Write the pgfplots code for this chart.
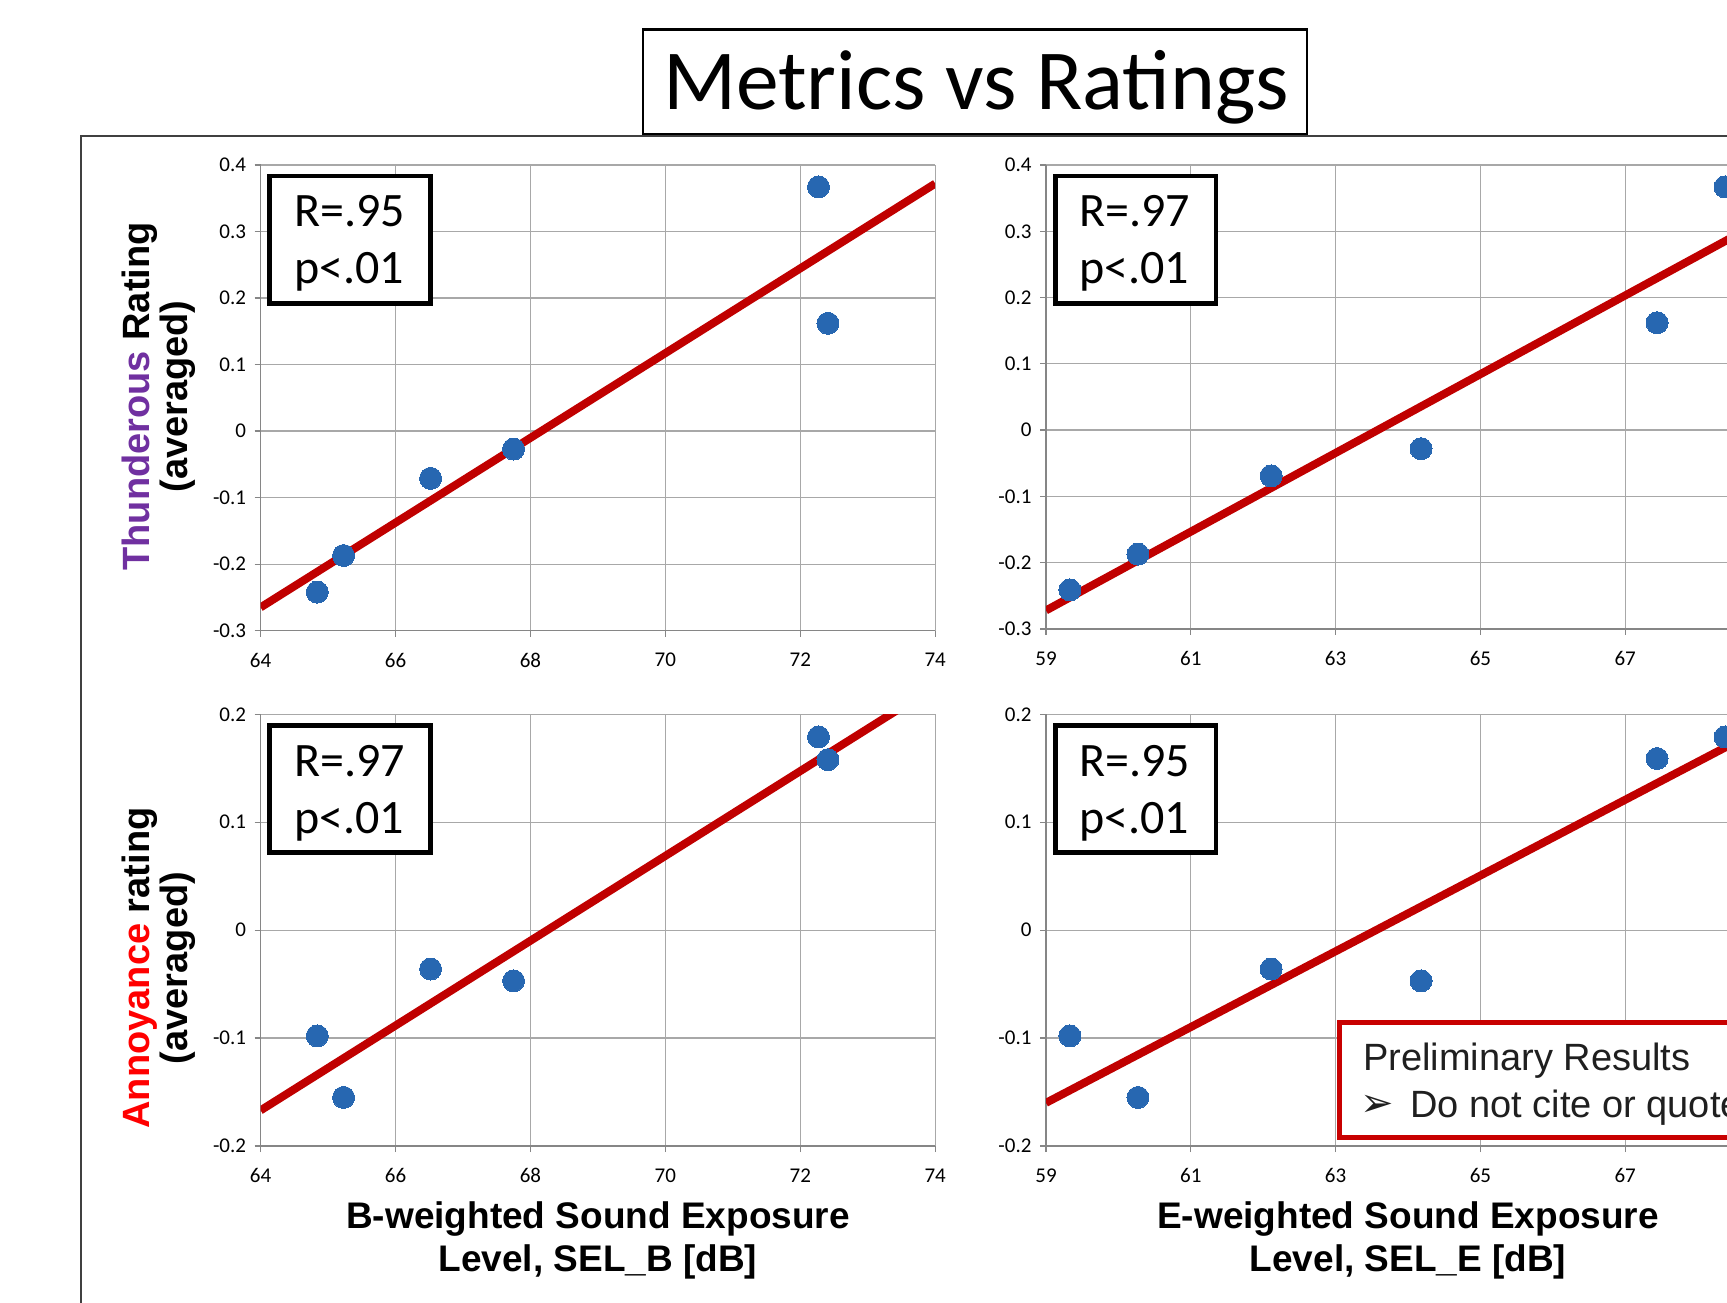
\documentclass[border=0pt]{standalone}
\usepackage{pgfplots}
\pgfplotsset{compat=1.18}
\usepackage{pgfplotstable}
\usepackage{fontspec}
\setmainfont{Carlito}
\newfontfamily\arialfont{Liberation Sans}
\newfontfamily\dejavu{DejaVu Sans}

\definecolor{dotblue}{RGB}{39,103,177}
\definecolor{trendred}{RGB}{192,0,0}
\definecolor{gridgray}{RGB}{168,168,168}
\definecolor{axisgray}{RGB}{134,134,134}
\definecolor{thunder}{RGB}{112,48,160}
\definecolor{annoy}{RGB}{255,0,0}
\definecolor{framegray}{RGB}{64,64,64}
\definecolor{prelim}{RGB}{200,0,0}

% Thunderous rating vs SEL_B
\pgfplotstableread{
x y
64.84 -0.242
65.23 -0.187
66.52 -0.071
67.75 -0.027
72.27 0.367
72.41 0.162
}\thunderB
% Thunderous rating vs SEL_E
\pgfplotstableread{
x y
59.33 -0.241
60.27 -0.187
62.11 -0.069
64.18 -0.028
67.44 0.162
68.38 0.367
}\thunderE
% Annoyance rating vs SEL_B
\pgfplotstableread{
x y
64.84 -0.098
65.23 -0.155
66.52 -0.036
67.75 -0.047
72.27 0.179
72.41 0.158
}\annoyB
% Annoyance rating vs SEL_E
\pgfplotstableread{
x y
59.33 -0.098
60.27 -0.155
62.11 -0.036
64.18 -0.047
67.44 0.159
68.38 0.179
}\annoyE

\pgfplotsset{
  excel/.style={
    scale only axis,
    axis x line*=bottom,
    axis y line*=left,
    axis line style={draw=axisgray, line width=1.5pt},
    grid=major,
    major grid style={draw=gridgray, line width=1.3pt},
    tick align=outside,
    major tick length=6pt,
    tick style={draw=axisgray, line width=1.3pt},
    xticklabel style={font=\fontsize{21}{24}\selectfont, text=black, yshift=-13pt},
    yticklabel style={font=\fontsize{21}{24}\selectfont, text=black, xshift=-5pt},
    clip=true,
  },
  dots/.style={only marks, color=dotblue, mark=*, mark size=11pt, mark options={fill=dotblue, draw=dotblue, line width=0pt}},
  trend/.style={no marks, draw=trendred, line width=8pt},
}

\begin{document}
\begin{tikzpicture}
\useasboundingbox (0pt,0pt) rectangle (1727pt,1302pt);
\clip (0pt,0pt) rectangle (1727pt,1302pt);
\fill[white] (0pt,0pt) rectangle (1727pt,1302pt);

% outer frame
\draw[framegray, line width=2pt] (80.5pt,-5pt) -- (80.5pt,1166.3pt) -- (1740pt,1166.3pt);

% title
\draw[black, line width=2.5pt, fill=white] (643.2pt,1168.2pt) rectangle (1306.8pt,1272.5pt);
\node[anchor=base, inner sep=0pt, font=\fontsize{85.5}{100}\selectfont] at (976pt,1192pt) {Metrics vs Ratings};

% top-left
\begin{axis}[excel, at={(260.6pt,671.3pt)}, anchor=south west,
  width=674.6pt, height=465.7pt,
  xmin=64, xmax=74, ymin=-0.3, ymax=0.4,
  xtick={64,66,68,70,72,74}, xticklabels={64,66,68,70,72,74},
  ytick={-0.3,-0.2,-0.1,0,0.1,0.2,0.3,0.4},
  yticklabels={-0.3,-0.2,-0.1,0,0.1,0.2,0.3,0.4}]
\addplot[trend] coordinates {(64,-0.265) (74,0.372)};
\addplot[dots] table[x=x,y=y] {\thunderB};
\end{axis}

% top-right
\begin{axis}[excel, at={(1046pt,673pt)}, anchor=south west,
  width=724pt, height=464pt,
  xmin=59, xmax=69, ymin=-0.3, ymax=0.4,
  xtick={59,61,63,65,67,69}, xticklabels={59,61,63,65,67,{}},
  ytick={-0.3,-0.2,-0.1,0,0.1,0.2,0.3,0.4},
  yticklabels={-0.3,-0.2,-0.1,0,0.1,0.2,0.3,0.4}]
\addplot[trend] coordinates {(59,-0.272) (69,0.322)};
\addplot[dots] table[x=x,y=y] {\thunderE};
\end{axis}

% bottom-left
\begin{axis}[excel, at={(260.6pt,156pt)}, anchor=south west,
  width=674.6pt, height=431.7pt,
  xmin=64, xmax=74, ymin=-0.2, ymax=0.2,
  xtick={64,66,68,70,72,74}, xticklabels={64,66,68,70,72,74},
  ytick={-0.2,-0.1,0,0.1,0.2},
  yticklabels={-0.2,-0.1,0,0.1,0.2}]
\addplot[trend] coordinates {(64,-0.167) (74,0.226)};
\addplot[dots] table[x=x,y=y] {\annoyB};
\end{axis}

% bottom-right
\begin{axis}[excel, at={(1046pt,156pt)}, anchor=south west,
  width=724pt, height=431.7pt,
  xmin=59, xmax=69, ymin=-0.2, ymax=0.2,
  xtick={59,61,63,65,67,69}, xticklabels={59,61,63,65,67,{}},
  ytick={-0.2,-0.1,0,0.1,0.2},
  yticklabels={-0.2,-0.1,0,0.1,0.2}]
\addplot[trend] coordinates {(59,-0.160) (69,0.191)};
\addplot[dots] table[x=x,y=y] {\annoyE};
\end{axis}

% R / p boxes
\tikzset{rbox/.style={draw=black, line width=4.5pt, fill=white},
         rtxt/.style={anchor=base west, inner sep=0pt, font=\fontsize{48}{56}\selectfont}}
\draw[rbox] (269.3pt,998.6pt) rectangle (430.5pt,1125.8pt);
\node[rtxt] at (294pt,1075pt) {R=.95};
\node[rtxt] at (294pt,1018pt) {p<.01};
\draw[rbox] (1055.3pt,998.6pt) rectangle (1216pt,1125.8pt);
\node[rtxt] at (1079pt,1075pt) {R=.97};
\node[rtxt] at (1079pt,1018pt) {p<.01};
\draw[rbox] (269.3pt,449.6pt) rectangle (430.5pt,576.5pt);
\node[rtxt] at (294pt,525.3pt) {R=.97};
\node[rtxt] at (294pt,468pt) {p<.01};
\draw[rbox] (1055.3pt,449.6pt) rectangle (1216pt,576.5pt);
\node[rtxt] at (1079pt,525.3pt) {R=.95};
\node[rtxt] at (1079pt,468pt) {p<.01};

% preliminary box
\draw[prelim, line width=5pt, fill=white] (1339pt,164.5pt) rectangle (1760pt,279.5pt);
\node[anchor=base west, inner sep=0pt, text=black!88, font=\arialfont\fontsize{38}{44}\selectfont] at (1363pt,232pt) {Preliminary Results};
\node[anchor=base west, inner sep=0pt, text=black!88, font=\dejavu\fontsize{40}{44}\selectfont] at (1360pt,186pt) {➢};
\node[anchor=base west, inner sep=0pt, text=black!88, font=\arialfont\fontsize{38}{44}\selectfont] at (1410pt,185pt) {Do not cite or quote};

% y-axis titles
\tikzset{atitle/.style={anchor=base, inner sep=0pt, font=\arialfont\bfseries\fontsize{38}{42}\selectfont}}
\node[atitle, rotate=90] at (149pt,905.5pt) {\textcolor{thunder}{Thunderous} Rating};
\node[atitle, rotate=90] at (187pt,905.5pt) {(averaged)};
\node[atitle, rotate=90] at (149pt,334pt) {\textcolor{annoy}{Annoyance} rating};
\node[atitle, rotate=90] at (187pt,334pt) {(averaged)};

% x-axis titles
\tikzset{xtitle/.style={anchor=base, inner sep=0pt, font=\arialfont\bfseries\fontsize{37}{42}\selectfont}}
\node[xtitle] at (598pt,73.5pt) {B-weighted Sound Exposure};
\node[xtitle] at (598pt,30.5pt) {Level, SEL\_B [dB]};
\node[xtitle] at (1408pt,73.5pt) {E-weighted Sound Exposure};
\node[xtitle] at (1408pt,30.5pt) {Level, SEL\_E [dB]};
\end{tikzpicture}
\end{document}
